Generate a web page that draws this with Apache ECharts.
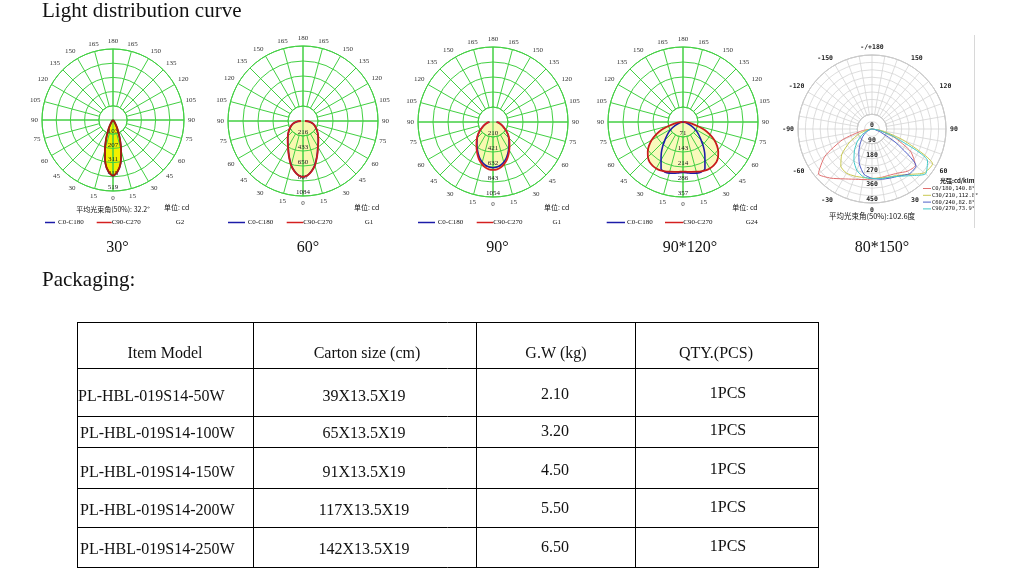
<!DOCTYPE html>
<html>
<head>
<meta charset="utf-8">
<script src="https://cdn.jsdelivr.net/npm/echarts@6/dist/echarts.min.js"></script>
<style>
html, body { margin: 0; padding: 0; background: #fff; }
#main { width: 1018px; height: 580px; }
</style>
</head>
<body>
<div id="main"></div>
<script>
// gamma angles (deg from downward) for the four green charts
var gammaDeg = [0, 5, 10, 15, 20, 25, 30, 35, 40, 45, 50, 55, 60, 65, 70, 75, 80, 85, 90];

// 30 deg lens, cd
var c0Beam30 = [409, 380, 322, 230, 150, 86, 46, 23, 12, 6, 3, 2, 1, 0, 0, 0, 0, 0, 0];
var c90Beam30 = [407, 378, 320, 228, 150, 86, 46, 23, 12, 6, 3, 2, 1, 0, 0, 0, 0, 0, 0];
var ringLabels30 = ['103', '207', '311', '415', '519'];

// 60 deg lens
var c0Beam60 = [809, 785, 730, 660, 572, 495, 428, 382, 342, 308, 278, 248, 220, 196, 173, 148, 118, 78, 30];
var c90Beam60 = [809, 788, 735, 665, 578, 500, 432, 385, 345, 310, 280, 250, 222, 198, 175, 150, 120, 80, 30];
var ringLabels60 = ['216', '433', '650', '867', '1084'];

// 90 deg lens
var c0Beam90 = [642, 636, 616, 584, 542, 492, 441, 393, 350, 311, 273, 232, 193, 159, 132, 109, 89, 69, 50];
var c90Beam90 = [674, 668, 645, 610, 566, 512, 457, 405, 360, 318, 278, 235, 195, 160, 133, 110, 90, 70, 50];
var ringLabels90 = ['210', '421', '632', '843', '1054'];

// 90*120 deg lens
var c0Beam120 = [240, 243, 248, 252, 253, 247, 209, 180, 150, 122, 100, 82, 62, 42, 28, 18, 10, 5, 0];
var c90Beam120 = [236, 238, 241, 245, 250, 254, 255, 253, 248, 236, 219, 198, 172, 142, 110, 68, 42, 20, 2];
var ringLabels120 = ['71', '143', '214', '286', '357'];

// 80*150 deg lens, cd/klm, signed gamma (left side negative)
var gammaSigned = [-90, -80, -70, -60, -50, -40, -30, -20, -10, 0, 10, 20, 30, 40, 50, 60, 70, 80, 90];
var c0Wide = [0, 60, 190, 330, 425, 390, 350, 325, 312, 305, 300, 300, 310, 335, 345, 270, 140, 45, 0];
var c30Wide = [0, 25, 80, 155, 240, 295, 310, 305, 300, 300, 302, 310, 325, 360, 415, 425, 210, 65, 0];
var c60Wide = [0, 5, 20, 45, 75, 110, 160, 225, 280, 300, 310, 318, 330, 355, 350, 170, 55, 15, 0];
var c90Wide = [0, 8, 30, 70, 115, 165, 220, 268, 296, 302, 306, 312, 332, 370, 425, 390, 150, 40, 0];
var wideLegend = ['C0/180,140.8°', 'C30/210,112.8°', 'C60/240,82.8°', 'C90/270,73.9°'];

var chartCaptions = ['30°', '60°', '90°', '90*120°', '80*150°'];

// packaging table
var tableHeader = ['Item Model', 'Carton size (cm)', 'G.W (kg)', 'QTY.(PCS)'];
var itemModels = ['PL-HBL-019S14-50W', 'PL-HBL-019S14-100W', 'PL-HBL-019S14-150W', 'PL-HBL-019S14-200W', 'PL-HBL-019S14-250W'];
var cartonSizes = ['39X13.5X19', '65X13.5X19', '91X13.5X19', '117X13.5X19', '142X13.5X19'];
var grossWeights = ['2.10', '3.20', '4.50', '5.50', '6.50'];
var quantities = ['1PCS', '1PCS', '1PCS', '1PCS', '1PCS'];

var green = '#42d042';
var serif = '"Liberation Serif", serif';
var cjk = '"Noto Sans CJK SC", sans-serif';
var mono = '"DejaVu Sans Mono", monospace';

var polar = [], angleAxis = [], radiusAxis = [], series = [], graphic = [];

function mirror(vals) {
	var out = [];
	for (var i = gammaDeg.length - 1; i > 0; i--) out.push([vals[i], 360 - gammaDeg[i]]);
	for (var j = 0; j < gammaDeg.length; j++) out.push([vals[j], gammaDeg[j]]);
	return out;
}

function signed(vals) {
	return gammaSigned.map(function (g, i) { return [vals[i], g < 0 ? 360 + g : g]; });
}

function txt(x, y, s, font, extra) {
	var st = { text: s, font: font, fill: '#111', align: 'left', verticalAlign: 'middle' };
	for (var k in extra) st[k] = extra[k];
	graphic.push({ type: 'text', x: x, y: y, silent: true, style: st });
}

function seg(x1, y1, x2, y2, color, w) {
	graphic.push({ type: 'line', silent: true, shape: { x1: x1, y1: y1, x2: x2, y2: y2 }, style: { stroke: color, lineWidth: w } });
}

// green grid chart with C0-C180 (blue) and C90-C270 (red)
function greenChart(cx, cy, r, maxVal, labels, blueVals, redVals, fill, redColor) {
	var ia = polar.length;
	polar.push({ center: [cx, cy], radius: [r / 5, r] });
	angleAxis.push({
		polarIndex: ia, type: 'value', min: 0, max: 360, interval: 15, startAngle: 270, clockwise: false, z: 2,
		axisLine: { lineStyle: { color: green, width: 1 } },
		axisTick: { show: false },
		splitLine: { lineStyle: { color: green, width: 1 } },
		axisLabel: {
			margin: 4, fontSize: 7, color: '#333', fontFamily: serif,
			formatter: function (v) { return v >= 360 ? '' : String(v <= 180 ? v : 360 - v); }
		}
	});
	radiusAxis.push({ polarIndex: ia, type: 'value', min: 0, max: 1, show: false });

	var ib = polar.length;
	var step = maxVal / 5;
	polar.push({ center: [cx, cy], radius: [0, r] });
	angleAxis.push({
		polarIndex: ib, type: 'value', min: 0, max: 360, interval: 90, startAngle: 270, clockwise: false, z: 2,
		axisLine: { show: false }, axisTick: { show: false }, axisLabel: { show: false },
		splitLine: { lineStyle: { color: green, width: 1 } }
	});
	radiusAxis.push({
		polarIndex: ib, type: 'value', min: 0, max: maxVal, interval: step, z: 2,
		axisLine: { show: false }, axisTick: { show: false },
		splitLine: { lineStyle: { color: green, width: 1 } },
		axisLabel: {
			margin: 0, align: 'center', verticalAlign: 'bottom', fontSize: 7, color: '#222', fontFamily: serif,
			formatter: function (v) { var k = Math.round(v / step); return k > 0 ? labels[k - 1] : ''; }
		}
	});

	series.push({
		type: 'line', coordinateSystem: 'polar', polarIndex: ib, symbol: 'none', smooth: 0.25, z: 1,
		lineStyle: { width: 0 }, areaStyle: { color: fill, opacity: 1 }, data: mirror(redVals)
	});
	series.push({
		type: 'line', coordinateSystem: 'polar', polarIndex: ib, symbol: 'none', smooth: 0.25, z: 3,
		lineStyle: { color: '#1c1ca8', width: 1.6 }, data: mirror(blueVals)
	});
	series.push({
		type: 'line', coordinateSystem: 'polar', polarIndex: ib, symbol: 'none', smooth: 0.25, z: 4,
		lineStyle: { color: redColor, width: 1.8 }, data: mirror(redVals)
	});
}

greenChart(113, 120, 71, 519, ringLabels30, c0Beam30, c90Beam30, '#f2f000', '#a82008');
greenChart(303, 121, 75, 1084, ringLabels60, c0Beam60, c90Beam60, '#f8f8b0', '#c81c1c');
greenChart(493, 122, 75, 1054, ringLabels90, c0Beam90, c90Beam90, '#f8f8b0', '#d42020');
greenChart(683, 122, 75, 357, ringLabels120, c0Beam120, c90Beam120, '#f9f9bc', '#c81c1c');

// wide chart (gray grid)
(function () {
	var cx = 872, cy = 129, r = 74, maxVal = 450;
	var ia = polar.length;
	polar.push({ center: [cx, cy], radius: [r / 5, r] });
	angleAxis.push({
		polarIndex: ia, type: 'value', min: 0, max: 360, interval: 10, startAngle: 270, clockwise: false,
		axisLine: { lineStyle: { color: '#aaa', width: 1 } },
		axisTick: { show: false },
		splitLine: { lineStyle: { color: '#d4d4d4', width: 0.8 } },
		axisLabel: {
			margin: 4, fontSize: 6.5, color: '#222', fontFamily: mono, fontWeight: 'bold',
			formatter: function (v) {
				if (v % 30 !== 0 || v >= 360) return '';
				if (v === 180) return '-/+180';
				return String(v < 180 ? v : v - 360);
			}
		}
	});
	radiusAxis.push({ polarIndex: ia, type: 'value', min: 0, max: 1, show: false });

	var ib = polar.length;
	polar.push({ center: [cx, cy], radius: [0, r] });
	angleAxis.push({
		polarIndex: ib, type: 'value', min: 0, max: 360, interval: 90, startAngle: 270, clockwise: false,
		axisLine: { show: false }, axisTick: { show: false }, axisLabel: { show: false }, splitLine: { show: false }
	});
	radiusAxis.push({
		polarIndex: ib, type: 'value', min: 0, max: maxVal, interval: 45, z: 2,
		axisLine: { show: false }, axisTick: { show: false },
		splitLine: { lineStyle: { color: '#d4d4d4', width: 0.8 } },
		axisLabel: {
			margin: 0, align: 'center', verticalAlign: 'bottom', fontSize: 6.5, color: '#222', fontFamily: mono, fontWeight: 'bold',
			formatter: function (v) { return Math.round(v) % 90 === 0 ? String(Math.round(v)) : ''; }
		}
	});
	var wideSets = [[c0Wide, '#e07070'], [c30Wide, '#c8c850'], [c60Wide, '#5060c8'], [c90Wide, '#40c8c8']];
	wideSets.forEach(function (s, i) {
		series.push({
			type: 'line', coordinateSystem: 'polar', polarIndex: ib, symbol: 'none', smooth: 0.2, z: 3,
			lineStyle: { color: s[1], width: 1 }, data: signed(s[0])
		});
		seg(923, 188.5 + i * 6.8, 931, 188.5 + i * 6.8, s[1], 1);
		txt(932, 188.5 + i * 6.8, wideLegend[i], '5.5px ' + mono, {});
	});
	txt(940, 180.5, '光强:cd/klm', 'bold 6px ' + cjk, {});
	txt(872, 216.5, '平均光束角(50%):102.6度', '7.5px ' + cjk, { align: 'center' });
	seg(974.5, 35, 974.5, 228, '#d8d8d8', 1);
})();

// texts around the green charts
txt(113, 209, '平均光束角(50%): 32.2°', '7px ' + cjk, { align: 'center' });
var unitX = [176.7, 366.7, 556.7, 745];
var legendX = [[45, 55, 58, 96.7, 111.7, 180, 'G2'], [228, 245, 247.7, 286.7, 303.3, 369, 'G1'],
	[418, 435, 437.7, 476.7, 493.3, 556.7, 'G1'], [606.7, 625, 627, 665, 683.3, 751.7, 'G24']];
for (var i = 0; i < 4; i++) {
	var L = legendX[i];
	txt(unitX[i], 207.3, '单位: cd', '7px ' + cjk, { align: 'center' });
	seg(L[0], 222.5, L[1], 222.5, '#1c1ca8', 1.5);
	txt(L[2], 222.5, 'C0-C180', '7px ' + serif, {});
	seg(L[3], 222.5, L[4], 222.5, '#d42020', 1.5);
	txt(L[4], 222.5, 'C90-C270', '7px ' + serif, {});
	txt(L[5], 222.5, L[6], '7px ' + serif, { align: 'center' });
}

// headings and captions
txt(42, 11, 'Light distribution curve', '21px ' + serif, {});
var captionX = [117.5, 308, 497.5, 690, 882];
chartCaptions.forEach(function (c, i) { txt(captionX[i], 248, c, '16px ' + serif, { align: 'center' }); });
txt(42, 280, 'Packaging:', '21px ' + serif, {});

// table
var colX = [77, 253, 476, 635, 818];
var rowY = [322, 368, 416, 447, 488, 527, 567];
rowY.forEach(function (y) { seg(colX[0], y + 0.5, colX[4], y + 0.5, '#000', 1); });
colX.forEach(function (x) { seg(x + 0.5, rowY[0], x + 0.5, rowY[rowY.length - 1] + 1, '#000', 1); });
var headX = [165, 367, 556, 716];
tableHeader.forEach(function (h, i) { txt(headX[i], 354, h, '16px ' + serif, { align: 'center' }); });
var rowTextY = [397, 434, 473, 511, 550];
for (var r = 0; r < itemModels.length; r++) {
	txt(r === 0 ? 78 : 80, rowTextY[r], itemModels[r], '16px ' + serif, {});
	txt(364, rowTextY[r], cartonSizes[r], '16px ' + serif, { align: 'center' });
	txt(555, rowTextY[r] - 2, grossWeights[r], '16px ' + serif, { align: 'center' });
	txt(728, rowTextY[r] - 3, quantities[r], '16px ' + serif, { align: 'center' });
}

var myChart = echarts.init(document.getElementById('main'));
myChart.setOption({
	backgroundColor: '#ffffff',
	animation: false,
	polar: polar,
	angleAxis: angleAxis,
	radiusAxis: radiusAxis,
	series: series,
	graphic: graphic
});
</script>
</body>
</html>
